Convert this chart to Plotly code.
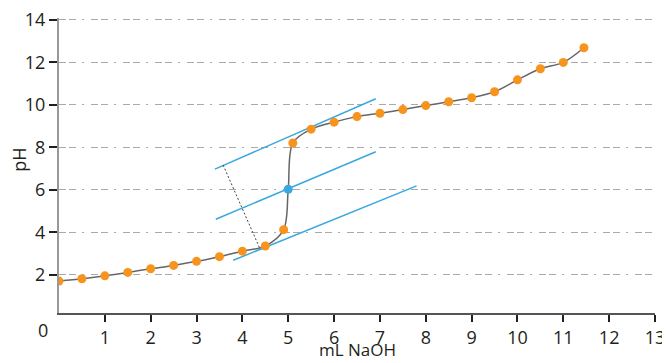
import plotly.graph_objects as go

# Titration data (mL NaOH, pH)
ml_naoh = [0, 0.5, 1.0, 1.5, 2.0, 2.5, 3.0, 3.5, 4.0, 4.5, 4.9, 5.0, 5.1, 5.5, 6.0, 6.5,
           7.0, 7.5, 8.0, 8.5, 9.0, 9.5, 10.0, 10.5, 11.0, 11.45]
ph = [1.70, 1.81, 1.95, 2.11, 2.28, 2.44, 2.63, 2.85, 3.11, 3.35, 4.12, 6.02, 8.20, 8.85,
      9.18, 9.44, 9.60, 9.77, 9.96, 10.14, 10.33, 10.61, 11.17, 11.69, 11.99, 12.68]

# equivalence point
eq_x = [5.0]
eq_y = [6.02]

# parallel tangent lines
upper_x = [3.40, 6.91]
upper_y = [6.97, 10.28]
mid_x = [3.42, 6.91]
mid_y = [4.61, 7.79]
low_x = [3.80, 7.80]
low_y = [2.68, 6.18]
# connector between tangents
perp_x = [3.58, 4.38]
perp_y = [7.16, 3.24]

x_ticks = list(range(1, 14))
y_ticks = [2, 4, 6, 8, 10, 12, 14]

ORANGE = "#F7941D"
BLUE = "#3AA8E0"
FONT = "Open Sans"
TXT = "#231F20"

fig = go.Figure()

# curve
fig.add_trace(go.Scatter(x=ml_naoh, y=ph, mode="lines",
                         line=dict(color="#666666", width=1.5, shape="spline", smoothing=0.9),
                         hoverinfo="skip", showlegend=False))

for lx, ly in [(upper_x, upper_y), (mid_x, mid_y), (low_x, low_y)]:
    fig.add_trace(go.Scatter(x=lx, y=ly, mode="lines",
                             line=dict(color=BLUE, width=1.5), showlegend=False))

fig.add_trace(go.Scatter(x=perp_x, y=perp_y, mode="lines",
                         line=dict(color="#444444", width=1, dash="2px,2px"), showlegend=False))

pts_x = [x for x in ml_naoh if x not in eq_x]
pts_y = [y for x, y in zip(ml_naoh, ph) if x not in eq_x]
fig.add_trace(go.Scatter(x=pts_x, y=pts_y, mode="markers",
                         marker=dict(color=ORANGE, size=9), showlegend=False))
fig.add_trace(go.Scatter(x=eq_x, y=eq_y, mode="markers",
                         marker=dict(color=BLUE, size=9), showlegend=False))

# page body has an 8px margin; compensate so the plot area lands at 59..655 x ~18..313
fig.update_layout(
    width=662, height=355,
    margin=dict(l=51, r=15, t=10, b=50),
    plot_bgcolor="white", paper_bgcolor="white",
    font=dict(family=FONT, size=16, color=TXT),
    xaxis=dict(range=[0, 13], tickvals=x_ticks, ticktext=[str(v) for v in x_ticks],
               automargin=False, ticklabeloverflow="allow",
               showgrid=False, zeroline=False, showline=True, linecolor="#555555", linewidth=2,
               ticks="outside", ticklen=7, tickwidth=2, tickcolor=TXT,
               tickfont=dict(size=18)),
    yaxis=dict(range=[0.2, 14.08], tickvals=y_ticks, ticktext=[str(v) for v in y_ticks],
               automargin=False, ticklabeloverflow="allow",
               showgrid=True, gridcolor="#AAAAAA", gridwidth=1.3,
               griddash="7px,3px,7px,6px,2px,7px",
               zeroline=False, showline=True, linecolor="#999999", linewidth=2,
               ticks="outside", ticklen=8, tickwidth=2, tickcolor=TXT,
               tickfont=dict(size=18)),
    annotations=[
        dict(text="0", x=-0.027, y=-0.058, xref="paper", yref="paper",
             showarrow=False, xanchor="center", yanchor="middle", font=dict(size=18)),
        dict(text="mL NaOH", x=0.5, y=-0.1695, xref="paper", yref="paper",
             showarrow=False, xanchor="center", yanchor="bottom", font=dict(size=17)),
        dict(text="pH", x=-0.067, y=0.52, xref="paper", yref="paper", textangle=-90,
             showarrow=False, xanchor="center", yanchor="middle", font=dict(size=18)),
    ],
)

fig.write_html("out.html")
